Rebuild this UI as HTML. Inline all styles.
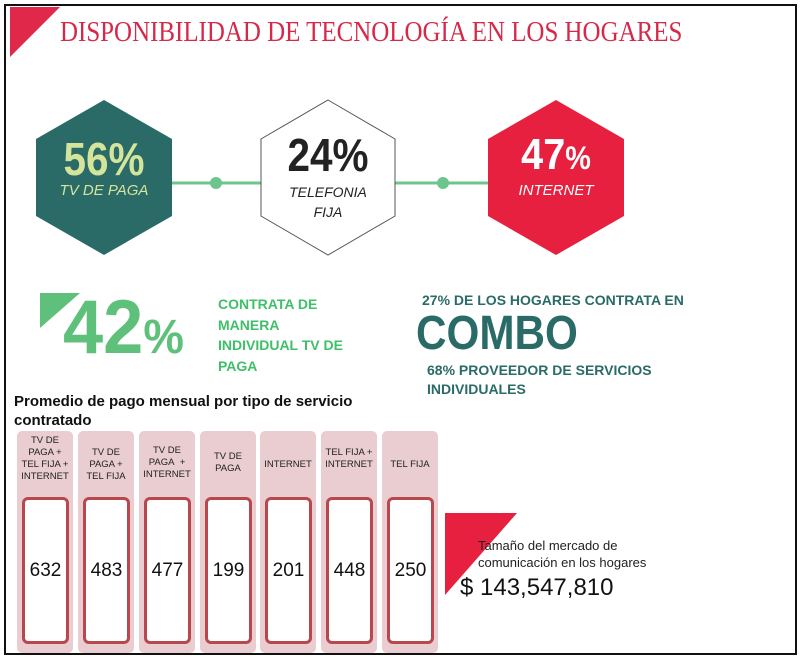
<!DOCTYPE html>
<html><head><meta charset="utf-8"><style>
body{margin:0;width:800px;height:660px;background:#fff;position:relative;overflow:hidden;font-family:"Liberation Sans",sans-serif}
.a{position:absolute;white-space:nowrap}
.col{position:absolute;top:431px;width:56px;height:222px;background:#e9cdd0;border-radius:5px}
.lab{position:absolute;top:4px;left:0;width:56px;text-align:center;font-size:9.5px;line-height:12px;color:#222}
.box{position:absolute;left:5px;top:66px;width:41px;height:141px;border:3px solid #b8474e;border-radius:6px;background:#fff;font-size:19px;color:#111;text-align:center;line-height:141px}
</style></head><body>
<div class="a" style="left:4px;top:4px;width:789px;height:647px;border:2px solid #111"></div>
<svg class="a" style="left:0;top:0" width="800" height="660">
<polygon points="10,7 60,7 10,57" fill="#e0294a"/>
<line x1="170" y1="183" x2="262" y2="183" stroke="#6cc58c" stroke-width="3"/>
<circle cx="216" cy="183" r="6" fill="#6cc58c"/>
<line x1="394" y1="183" x2="490" y2="183" stroke="#6cc58c" stroke-width="3"/>
<circle cx="443" cy="183" r="6" fill="#6cc58c"/>
<polygon points="104,100 172,139 172,216 104,255 36,216 36,139" fill="#2a6b68"/>
<polygon points="328,100 395,139 395,216 328,255 261,216 261,139" fill="#fff" stroke="#555" stroke-width="1"/>
<polygon points="556,100 624,139 624,216 556,255 488,216 488,139" fill="#e8203f"/>
<polygon points="40,293 80,293 40,328" fill="#5ec07a"/>
<polygon points="445,513 517,513 445,595" fill="#e8203f"/>
</svg>
<div class="a" style="left:60px;top:16px;font-family:'Liberation Serif',serif;font-size:29px;color:#d6294a;transform:scaleX(0.86);transform-origin:left">DISPONIBILIDAD DE TECNOLOGÍA EN LOS HOGARES</div>
<div class="a" style="left:36px;width:136px;top:132px;text-align:center;font-size:46px;font-weight:bold;color:#d4e49a;transform:scaleX(0.88)">56%</div>
<div class="a" style="left:36px;width:136px;top:182px;text-align:center;font-size:15px;font-style:italic;color:#d4e49a">TV DE PAGA</div>
<div class="a" style="left:261px;width:134px;top:128px;text-align:center;font-size:46px;font-weight:bold;color:#222;transform:scaleX(0.88)">24%</div>
<div class="a" style="left:261px;width:134px;top:182px;text-align:center;font-size:14px;font-style:italic;color:#222;line-height:20px">TELEFONIA<br>FIJA</div>
<div class="a" style="left:488px;width:136px;top:130px;text-align:center;font-size:44px;font-weight:bold;color:#fff;transform:scaleX(0.9)">47<span style="font-size:32px">%</span></div>
<div class="a" style="left:488px;width:136px;top:182px;text-align:center;font-size:15px;font-style:italic;color:#fff">INTERNET</div>
<div class="a" style="left:63px;top:284px;font-size:76px;font-weight:bold;color:#5ec07a;transform:scaleX(0.95);transform-origin:left">42<span style="font-size:48px">%</span></div>
<div class="a" style="left:218px;top:294px;font-size:14px;font-weight:bold;color:#3fbf6a;line-height:20.5px">CONTRATA DE<br>MANERA<br>INDIVIDUAL TV DE<br>PAGA</div>
<div class="a" style="left:422px;top:292px;font-size:14px;font-weight:bold;color:#2a6b68">27% DE LOS HOGARES CONTRATA EN</div>
<div class="a" style="left:416px;top:306px;font-size:48px;font-weight:bold;color:#2a6b68;transform:scaleX(0.88);transform-origin:left">COMBO</div>
<div class="a" style="left:427px;top:361px;font-size:14px;font-weight:bold;color:#2a6b68;line-height:19px">68% PROVEEDOR DE SERVICIOS<br>INDIVIDUALES</div>
<div class="a" style="left:14px;top:392px;font-size:15px;font-weight:bold;color:#111;line-height:19px">Promedio de pago mensual por tipo de servicio<br>contratado</div>
<div class="col" style="left:17px"><div class="lab">TV DE<br>PAGA +<br>TEL FIJA +<br>INTERNET</div><div class="box">632</div></div>
<div class="col" style="left:78px"><div class="lab" style="top:16px">TV DE<br>PAGA +<br>TEL FIJA</div><div class="box">483</div></div>
<div class="col" style="left:139px"><div class="lab" style="top:14px">TV DE<br>PAGA&nbsp; +<br>INTERNET</div><div class="box">477</div></div>
<div class="col" style="left:200px"><div class="lab" style="top:20px">TV DE<br>PAGA</div><div class="box">199</div></div>
<div class="col" style="left:260px"><div class="lab" style="top:28px">INTERNET</div><div class="box">201</div></div>
<div class="col" style="left:321px"><div class="lab" style="top:16px">TEL FIJA +<br>INTERNET</div><div class="box">448</div></div>
<div class="col" style="left:382px"><div class="lab" style="top:28px">TEL FIJA</div><div class="box">250</div></div>
<div class="a" style="left:478px;top:537px;font-size:13px;color:#222;line-height:17px">Tamaño del mercado de<br>comunicación en los hogares</div>
<div class="a" style="left:460px;top:574px;font-size:24px;color:#111">$ 143,547,810</div>
</body></html>
